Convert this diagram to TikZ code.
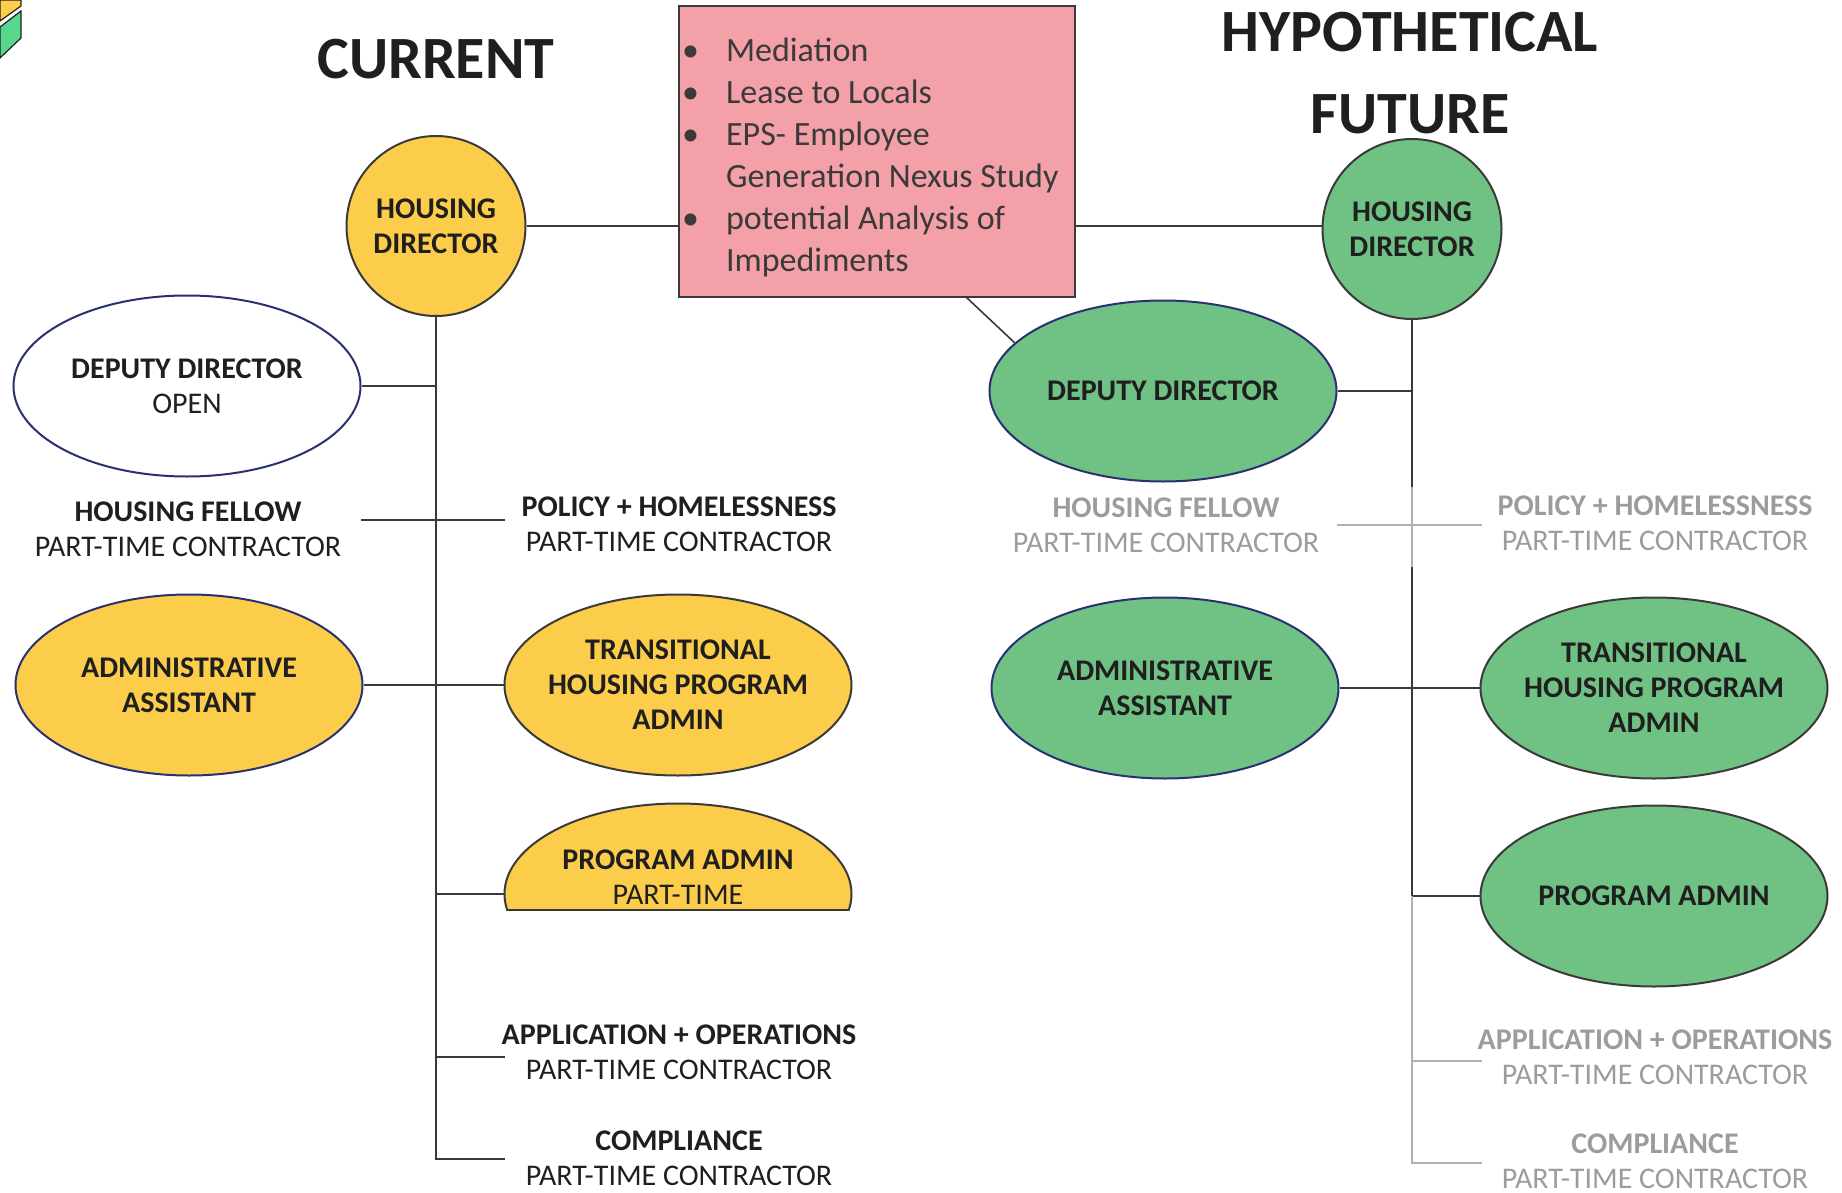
\documentclass[tikz,border=0pt]{standalone}
\usepackage{fontspec}
\setmainfont{Carlito}
\usepackage{tikz}
\usetikzlibrary{shapes.geometric,positioning}
\definecolor{gold}{HTML}{FCCD4B}
\definecolor{leaf}{HTML}{6FC283}
\definecolor{mint}{HTML}{58D68D}
\definecolor{rose}{HTML}{F4A0A8}
\definecolor{navy}{HTML}{2A3170}
\definecolor{ink}{HTML}{1F1F1F}
\definecolor{lead}{HTML}{3A3A3A}
\definecolor{ash}{HTML}{9C9C9C}
\definecolor{ashline}{HTML}{B0B0B0}
\newcommand\rolefont{\fontsize{15}{17.5}\selectfont\bfseries}
\newcommand\subline[1]{{\mdseries #1}}
\tikzset{
  role/.style={ellipse,line width=1pt,inner sep=-6pt,minimum width=173.5pt,minimum height=90.5pt,align=center,font=\rolefont,text=ink},
  head/.style={role,draw=lead,minimum width=89.5pt,minimum height=90pt},
  seat/.style={font=\rolefont,text=ink,align=center,inner sep=0pt},
  ghost/.style={seat,text=ash},
  conn/.style={draw=lead,line width=0.8pt},
  faint/.style={draw=ashline,line width=0.8pt},
  ttl/.style={font=\fontsize{30}{41}\selectfont\bfseries,text=ink,align=center},
}

\begin{document}
\begin{tikzpicture}[x=0.5pt,y=-0.5pt]
\useasboundingbox (0,0) rectangle (1842,1193);
\filldraw[fill=gold,draw=ink,line width=0.6pt] (0,0) -- (21,0) -- (21,6) -- (0,21) -- cycle;
\filldraw[fill=mint,draw=ink,line width=0.6pt] (0,27) -- (21,11) -- (21,38) -- (0,58) -- cycle;

\node[ttl] (cur) at (436,59) {CURRENT};
\node[ttl] (hyp) at (1410,73) {HYPOTHETICAL\\FUTURE};

\node[draw=lead,line width=0.8pt,fill=rose,minimum width=198pt,minimum height=145.5pt,inner sep=0pt,
  font=\fontsize{17}{21}\selectfont,text=lead] (notes) at (877,151.5)
  {\hspace*{-6.7pt}\begin{tabular}{@{}p{22pt}@{}l@{}}
   \rule{0pt}{21.7pt}\textbullet & Mediation\\
   \textbullet & Lease to Locals\\
   \textbullet & EPS- Employee\\
   & Generation Nexus Study\\
   \textbullet & potential Analysis of\\
   & Impediments
   \end{tabular}};

% current
\node[head,fill=gold] (hdc) at (436,226) {HOUSING\\DIRECTOR};
\node[role,draw=navy,fill=white] (ddc) at (187,386) {DEPUTY DIRECTOR\\\subline{OPEN}};
\node[seat] (hfc) at (188,529) {HOUSING FELLOW\\\subline{PART-TIME CONTRACTOR}};
\node[seat] (poc) at (679,524) {POLICY + HOMELESSNESS\\\subline{PART-TIME CONTRACTOR}};
\node[role,draw=navy,fill=gold] (adc) at (189,685) {ADMINISTRATIVE\\ASSISTANT};
\node[role,draw=lead,fill=gold] (thc) at (678,685) {TRANSITIONAL\\HOUSING PROGRAM\\ADMIN};
\begin{scope}
\clip (480,780) rectangle (880,910);
\node[role,draw=lead,fill=gold] (pac) at (678,894) {};
\end{scope}
\node[seat] (pat) at (678,877) {PROGRAM ADMIN\\\subline{PART-TIME}};
\node[seat] (apc) at (679,1052) {APPLICATION + OPERATIONS\\\subline{PART-TIME CONTRACTOR}};
\node[seat] (cmc) at (679,1158) {COMPLIANCE\\\subline{PART-TIME CONTRACTOR}};

\coordinate (pabl) at (507,910); \coordinate (pabr) at (849,910);
\coordinate (hfl) at (361,520); \coordinate (pol) at (505,520);
\coordinate (apl) at (505,1057); \coordinate (cml) at (505,1159);
\draw[line width=1pt,draw=lead] (pabl) -- (pabr);
\draw[conn] (hdc.east) -- (hdc.east -| notes.west);
\draw[conn] (hdc.south) -- (hdc.south |- cml) -- (cml);
\draw[conn] (ddc.east) -- (ddc.east -| hdc.south);
\draw[conn] (hfl) -- (pol); \draw[conn] (adc.east) -- (thc.west);
\draw[conn] (hdc.south |- pac.west) -- (pac.west);
\draw[conn] (apl -| hdc.south) -- (apl);

% hypothetical future
\node[head,fill=leaf] (hdf) at (1412,229) {HOUSING\\DIRECTOR};
\node[role,draw=navy,fill=leaf] (ddf) at (1163,391) {DEPUTY DIRECTOR};
\node[ghost] (hff) at (1166,525) {HOUSING FELLOW\\\subline{PART-TIME CONTRACTOR}};
\node[ghost] (pof) at (1655,523) {POLICY + HOMELESSNESS\\\subline{PART-TIME CONTRACTOR}};
\node[role,draw=navy,fill=leaf] (adf) at (1165,688) {ADMINISTRATIVE\\ASSISTANT};
\node[role,draw=lead,fill=leaf] (thf) at (1654,688) {TRANSITIONAL\\HOUSING PROGRAM\\ADMIN};
\node[role,draw=lead,fill=leaf] (paf) at (1654,896) {PROGRAM ADMIN};
\node[ghost] (apf) at (1655,1057) {APPLICATION + OPERATIONS\\\subline{PART-TIME CONTRACTOR}};
\node[ghost] (cmf) at (1655,1161) {COMPLIANCE\\\subline{PART-TIME CONTRACTOR}};

\coordinate (tie) at (966,297);
\coordinate (gap1) at (1412,487); \coordinate (gap2) at (1412,567);
\coordinate (hfr) at (1337,525); \coordinate (porr) at (1482,525);
\coordinate (apr) at (1482,1061); \coordinate (cmr) at (1482,1163);
\draw[conn] (notes.east |- hdc.east) -- (notes.east |- hdc.east -| hdf.west);
\draw[conn] (tie) -- (ddf.162);
\draw[conn] (hdf.south) -- (gap1); \draw[faint] (gap1) -- (gap2);
\draw[conn] (gap2) -- (hdf.south |- paf.west) -- (paf.west);
\draw[faint] (hdf.south |- paf.west) -- (hdf.south |- cmr) -- (cmr);
\draw[conn] (ddf.east) -- (ddf.east -| hdf.south);
\draw[faint] (hfr) -- (porr); \draw[conn] (adf.east) -- (thf.west);
\draw[faint] (apr -| hdf.south) -- (apr);
\end{tikzpicture}
\end{document}
